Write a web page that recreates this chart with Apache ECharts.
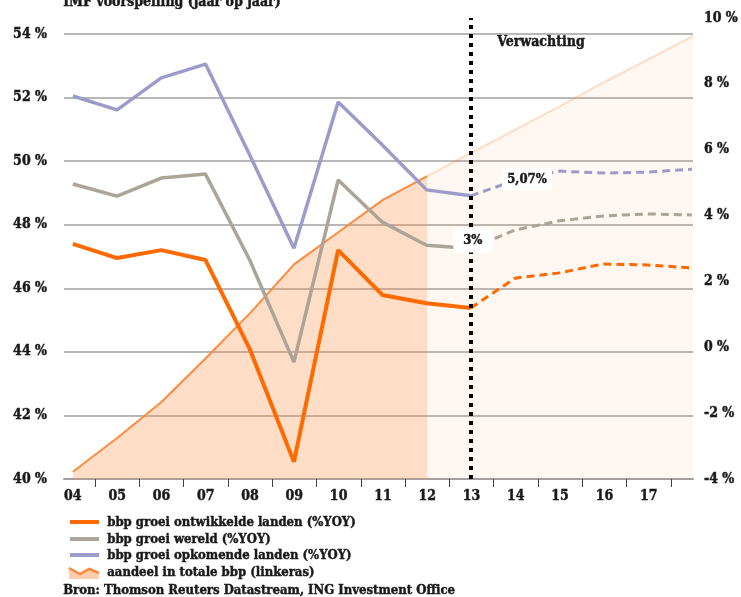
<!DOCTYPE html>
<html>
<head>
<meta charset="utf-8">
<script src="https://cdn.jsdelivr.net/npm/echarts@6/dist/echarts.min.js"></script>
<style>
  html, body { margin: 0; padding: 0; background: #fff; }
  #chart { width: 741px; height: 597px; }
</style>
</head>
<body>
<div id="chart"></div>
<script>
// Year labels along the x axis (index 14 = 2018, end of projection, unlabeled)
const years = ['04', '05', '06', '07', '08', '09', '10', '11', '12', '13', '14', '15', '16', '17', '18'];

// Share of emerging economies in total GDP (left axis, %)
const shareHist = [40.23, 41.29, 42.42, 43.80, 45.22, 46.76, 47.77, 48.78, 49.53];   // 04–12
const shareFcst = [49.53, 50.27, 51.00, 51.73, 52.49, 53.21, 53.93];                 // 12–18

// GDP growth, % YoY (right axis)
const devHist = [3.14, 2.71, 2.95, 2.65, -0.05, -3.48, 2.95, 1.59, 1.34, 1.19];     // 04–13
const devFcst = [1.19, 2.10, 2.26, 2.53, 2.50, 2.41];                              // 13–18
const worldHist = [4.96, 4.59, 5.14, 5.26, 2.65, -0.45, 5.08, 3.80, 3.10, 3.00];   // 04–13
const worldFcst = [3.00, 3.56, 3.84, 3.99, 4.05, 4.02];                            // 13–18
const emHist = [7.63, 7.21, 8.18, 8.60, 5.84, 3.01, 7.45, 6.14, 4.78, 4.60];       // 04–13
const emFcst = [4.60, 5.07, 5.35, 5.29, 5.32, 5.41];                               // 13–18

const histStart = 0;      // index of 04
const fcstStart = 9;      // index of 13 (forecast lines start here)
const shareFcstStart = 8; // index of 12 (projected share starts here)
const forecastYearIdx = 9;

const FONT = "'DejaVu Serif Condensed', 'DejaVu Serif', serif";
const TXT = '#1a1a1a';
const GRID = '#a0a0a0';
const BOLDEN = 0.45; // thin outline to give the slab labels more weight

const C_DEV = '#ff6a00';
const C_WORLD = '#aba498';
const C_EM = '#9c9cca';
const C_SHARE = '#ff8a3d';

function pairs(arr, start) { return arr.map((v, i) => [start + i, v]); }
function pct(v) {
  const s = Number.isInteger(v) ? String(v) : v.toFixed(2);
  return s.replace('.', ',') + '%';
}

const chart = echarts.init(document.getElementById('chart'), null, { renderer: 'canvas' });

const axisText = (size, extra) => Object.assign({
  color: TXT, fontFamily: FONT, fontWeight: 'bold', fontSize: size,
  textBorderColor: TXT, textBorderWidth: BOLDEN
}, extra);

const labelBox = (extra) => Object.assign({
  symbol: 'rect',
  itemStyle: { color: '#ffffff' },
  label: axisText(13, {
    show: true, position: 'inside',
    formatter: p => pct(p.value)
  })
}, extra);

const gText = (x, y, text, size) => ({
  type: 'text', left: x, top: y,
  style: { text: text, fill: TXT, stroke: TXT, lineWidth: BOLDEN, font: 'bold ' + size + 'px ' + FONT }
});

const option = {
  animation: false,
  backgroundColor: '#ffffff',
  grid: [
    { left: 64, right: 48, top: 34, bottom: 118 },
    { left: 64, right: 48, top: 18, bottom: 118 }
  ],
  xAxis: [
    {
      gridIndex: 0, type: 'value', min: -0.2, max: 14,
      axisLine: { show: true, lineStyle: { color: GRID, width: 2 } },
      axisTick: {
        show: true, length: 8, lineStyle: { color: '#444', width: 1 },
        customValues: years.slice(0, 14).map((_, i) => i + 0.5)
      },
      axisLabel: axisText(14, {
        show: true, margin: 10,
        customValues: years.slice(0, 14).map((_, i) => i),
        formatter: v => years[Math.round(v)]
      }),
      splitLine: { show: false }
    },
    {
      gridIndex: 1, type: 'value', min: -0.2, max: 14,
      axisLine: { show: false }, axisTick: { show: false },
      axisLabel: { show: false }, splitLine: { show: false }
    }
  ],
  yAxis: [
    {
      gridIndex: 0, type: 'value', min: 40, max: 54, interval: 2, position: 'left',
      axisLine: { show: false }, axisTick: { show: false },
      axisLabel: axisText(14, { margin: 17, formatter: '{value} %' }),
      splitLine: { show: true, lineStyle: { color: GRID, width: 1.5 } }
    },
    {
      gridIndex: 1, type: 'value', min: -4, max: 10, interval: 2, position: 'right',
      axisLine: { show: false }, axisTick: { show: false },
      axisLabel: axisText(14, { margin: 12, formatter: '{value} %' }),
      splitLine: { show: false }
    }
  ],
  series: [
    {
      name: 'aandeel in totale bbp (linkeras)', type: 'line', xAxisIndex: 0, yAxisIndex: 0,
      data: pairs(shareHist, histStart), showSymbol: false, z: 1,
      lineStyle: { color: C_SHARE, width: 2 },
      areaStyle: { color: 'rgba(255,140,60,0.42)', origin: 'start' }
    },
    {
      name: 'aandeel projectie', type: 'line', xAxisIndex: 0, yAxisIndex: 0,
      data: pairs(shareFcst, shareFcstStart), showSymbol: false, z: 1,
      lineStyle: { color: 'rgba(255,140,60,0.28)', width: 2 },
      areaStyle: { color: 'rgba(255,140,60,0.10)', origin: 'start' }
    },
    {
      name: 'bbp groei ontwikkelde landen (%YOY)', type: 'line', xAxisIndex: 1, yAxisIndex: 1,
      data: pairs(devHist, histStart), showSymbol: false, z: 3,
      lineStyle: { color: C_DEV, width: 4 },
      markLine: {
        silent: true, symbol: ['none', 'none'], z: 4,
        label: { show: false },
        lineStyle: { color: '#000', width: 4, type: [4, 5], cap: 'butt' },
        data: [{ xAxis: forecastYearIdx }]
      }
    },
    {
      name: 'dev projectie', type: 'line', xAxisIndex: 1, yAxisIndex: 1,
      data: pairs(devFcst, fcstStart), showSymbol: false, z: 3,
      lineStyle: { color: C_DEV, width: 3, type: [8, 5] }
    },
    {
      name: 'bbp groei wereld (%YOY)', type: 'line', xAxisIndex: 1, yAxisIndex: 1,
      data: pairs(worldHist, histStart), showSymbol: false, z: 3,
      lineStyle: { color: C_WORLD, width: 3.5 }
    },
    {
      name: 'wereld projectie', type: 'line', xAxisIndex: 1, yAxisIndex: 1,
      data: pairs(worldFcst, fcstStart), showSymbol: false, z: 3,
      lineStyle: { color: C_WORLD, width: 3, type: [8, 5] },
      markPoint: labelBox({
        z: 10, symbolSize: [39, 24], symbolOffset: [2, -8],
        data: [{ coord: [fcstStart, worldFcst[0]], value: worldFcst[0] }]
      })
    },
    {
      name: 'bbp groei opkomende landen (%YOY)', type: 'line', xAxisIndex: 1, yAxisIndex: 1,
      data: pairs(emHist, histStart), showSymbol: false, z: 3,
      lineStyle: { color: C_EM, width: 3.5 }
    },
    {
      name: 'opkomend projectie', type: 'line', xAxisIndex: 1, yAxisIndex: 1,
      data: pairs(emFcst, fcstStart), showSymbol: false, z: 3,
      lineStyle: { color: C_EM, width: 3, type: [8, 5] },
      markPoint: labelBox({
        z: 10, symbolSize: [50, 22], symbolOffset: [12, -1],
        data: [{ coord: [fcstStart + 1, emFcst[1]], value: emFcst[1] }]
      })
    }
  ],
  graphic: [
    // header, partly cut off at the top edge
    gText(63, -5, 'IMF voorspelling (jaar op jaar)', 14),
    gText(497, 35, 'Verwachting', 14),
    // legend
    { type: 'rect', shape: { x: 70, y: 520, width: 29, height: 4 }, style: { fill: C_DEV } },
    gText(107, 516, 'bbp groei ontwikkelde landen (%YOY)', 13),
    { type: 'rect', shape: { x: 70, y: 537, width: 29, height: 4 }, style: { fill: C_WORLD } },
    gText(107, 533, 'bbp groei wereld (%YOY)', 13),
    { type: 'rect', shape: { x: 70, y: 553, width: 29, height: 4 }, style: { fill: C_EM } },
    gText(107, 549, 'bbp groei opkomende landen (%YOY)', 13),
    { type: 'polygon', shape: { points: [[69, 568], [80, 574], [89, 569], [99, 573], [99, 579], [69, 579]] }, style: { fill: 'rgba(255,140,60,0.42)' } },
    { type: 'polyline', shape: { points: [[69, 568], [80, 574], [89, 569], [99, 573]] }, style: { stroke: C_SHARE, lineWidth: 2.5, fill: null } },
    gText(107, 566, 'aandeel in totale bbp (linkeras)', 13),
    gText(63, 584, 'Bron: Thomson Reuters Datastream, ING Investment Office', 13)
  ]
};

chart.setOption(option);
</script>
</body>
</html>
